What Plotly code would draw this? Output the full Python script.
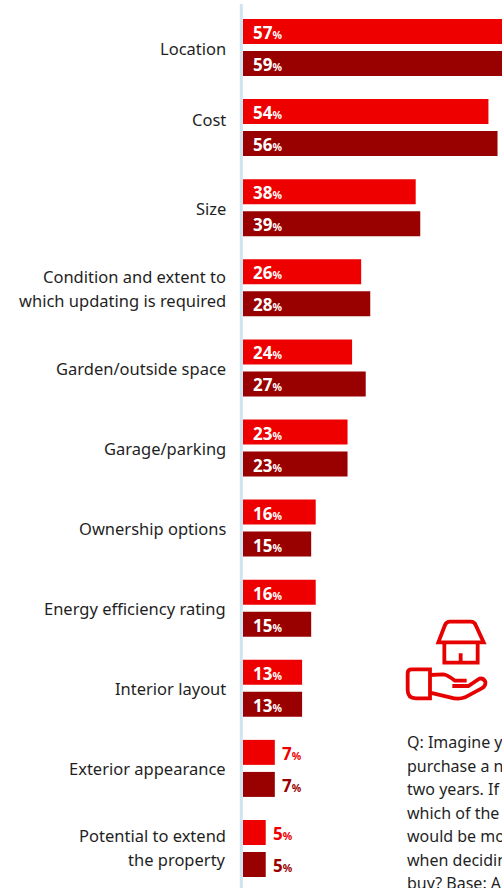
import plotly.graph_objects as go

categories = ["Location", "Cost", "Size", "Condition and extent to<br>which updating is required",
              "Garden/outside space", "Garage/parking", "Ownership options",
              "Energy efficiency rating", "Interior layout", "Exterior appearance",
              "Potential to extend<br>the property"]
series_a = [57, 54, 38, 26, 24, 23, 16, 16, 13, 7, 5]
series_b = [59, 56, 39, 28, 27, 23, 15, 15, 13, 7, 5]
question_lines = ["Q: Imagine you were to", "purchase a new home in", "two years. If you did,",
                  "which of the following", "would be most important", "when deciding what to",
                  "buy? Base: All adults"]

RED = "#ee0000"
DARK = "#990000"
INK = "#1f1f1f"
FONT = "Noto Sans"
W, H, LEFT = 502, 888, 243
PX_PER_PCT = 4.545
GROUP_PITCH = 80.1
FIRST_CENTRE = 47.5
LABEL_LEADING = 24
# Captions mostly sit on their group's centre; these two are set a little higher.
CAPTION_SHIFT = {"Cost": 8.5, "Potential to extend<br>the property": 1}


def paper_x(px):
    return (px - LEFT) / (W - LEFT)


def paper_y(py):
    return 1 - py / H


def icon_path(points):
    # Icon outlines are noted on a 3x grid anchored at (390, 610).
    parts = []
    for token in points.split():
        if token.isalpha():
            parts.append(token)
        else:
            a, b = token.split(",")
            parts.append(f"{paper_x(390 + float(a) / 3):.5f},{paper_y(610 + float(b) / 3):.5f}")
    return " ".join(parts)


def value_label(v):
    return f"<b>{v}</b><span style='font-size:10.5px'><b>%</b></span>"


fig = go.Figure()
for name, values, colour in (("A", series_a, RED), ("B", series_b, DARK)):
    fig.add_trace(go.Bar(y=categories, x=values, name=name, orientation="h",
                         marker=dict(color=colour, line_width=0), showlegend=False))

annotations = []
for values, colour, shift in ((series_a, RED, 15), (series_b, DARK, -17)):
    for cat, v in zip(categories, values):
        inside = v > 10
        annotations.append(dict(
            x=v if not inside else 0, y=cat, xref="x", yref="y",
            text=value_label(v), showarrow=False, xanchor="left", yanchor="middle",
            xshift=8 if inside else 5.5, yshift=shift,
            font=dict(family=FONT, size=17, color="white" if inside else colour)))

# Category captions are placed line by line to hold their wider leading.
for cat in categories:
    lines = cat.split("<br>")
    for i, line in enumerate(lines):
        offset = (i - (len(lines) - 1) / 2) * LABEL_LEADING
        annotations.append(dict(
            x=0, y=cat, xref="x", yref="y", text=line, showarrow=False,
            xanchor="right", yanchor="middle", align="right",
            xshift=-15, yshift=CAPTION_SHIFT.get(cat, -0.5) - offset,
            font=dict(family=FONT, size=16.5, color=INK)))

for i, line in enumerate(question_lines):
    annotations.append(dict(
        x=paper_x(405), y=paper_y(742 + i * 23.5), xref="paper", yref="paper",
        text=line, showarrow=False, xanchor="left", yanchor="middle", align="left",
        font=dict(family=FONT, size=16, color=INK)))

icon_line = dict(color="#e60000", width=3.8)
shapes = [
    dict(type="line", xref="paper", yref="paper", x0=paper_x(241.3), x1=paper_x(241.3),
         y0=paper_y(4), y1=0, line=dict(color="#cfe4ee", width=3), layer="above"),
    dict(type="path", xref="paper", yref="paper", line=icon_line,
         path=icon_path("M 145,97 L 165,45 Q 169,35 180,35 L 242,35 Q 253,35 257,45 L 281,97 Z")),
    dict(type="path", xref="paper", yref="paper", line=icon_line,
         path=icon_path("M 163,97 L 163,158 L 263,158 L 263,97 M 212,130 L 212,158")),
    dict(type="path", xref="paper", yref="paper", line=icon_line,
         path=icon_path("M 120,178 L 65,178 Q 53,178 53,190 L 53,240 Q 53,265 78,265 L 120,265 Z")),
    dict(type="path", xref="paper", yref="paper", line=icon_line,
         path=icon_path("M 120,195 L 160,193 Q 170,193 195,212 L 230,212 M 187,228 L 235,228 L 268,206 "
                        "Q 280,203 286,215 Q 288,228 275,235 L 225,262 Q 205,270 180,262 L 120,248")),
]

fig.update_layout(
    width=W, height=H, margin=dict(l=LEFT, r=0, t=0, b=0, autoexpand=False),
    paper_bgcolor="white", plot_bgcolor="white",
    barmode="group", bargap=0.2, bargroupgap=0.22,
    annotations=annotations, shapes=shapes,
    xaxis=dict(range=[0, (W - LEFT) / PX_PER_PCT], visible=False, fixedrange=True),
    yaxis=dict(range=[(H - FIRST_CENTRE) / GROUP_PITCH, -FIRST_CENTRE / GROUP_PITCH],
               type="category", showgrid=False, showline=False, zeroline=False,
               ticks="", showticklabels=False, automargin=False),
)
fig.write_html("out.html", config=dict(displayModeBar=False))
